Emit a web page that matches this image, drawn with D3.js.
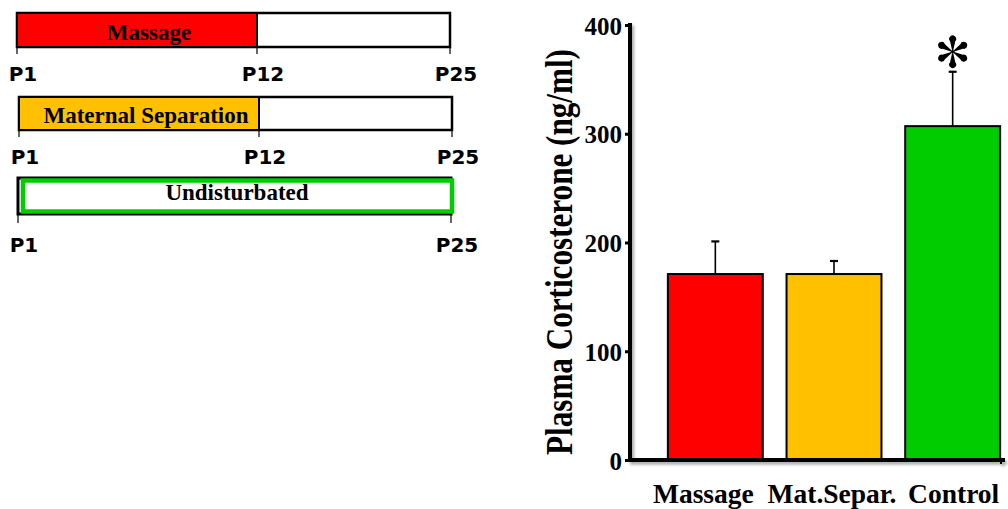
<!DOCTYPE html>
<html>
<head>
<meta charset="utf-8">
<script src="https://cdn.jsdelivr.net/npm/d3@7"></script>
<style>
  html, body { margin: 0; padding: 0; background: #fff; }
  svg { display: block; }
  .serif { font-family: "Liberation Serif", "Times New Roman", serif; font-weight: 700; }
  .sans { font-family: "DejaVu Sans", sans-serif; font-weight: 700; }
</style>
</head>
<body>
<svg id="chart" width="1008" height="509"></svg>
<script>
// ---- Protocol timelines (postnatal days) ----
const protocolNames = ["Massage", "Maternal Separation", "Undisturbated"];
const protocolStart = [1, 1, 1];
const protocolEnd = [12, 12, 25];
const protocolColors = ["#ff0000", "#ffc000", "#00cc00"];
const protocolTicks = [[1, 12, 25], [1, 12, 25], [1, 25]];
const dayMarks = [1, 12, 25];

// ---- Plasma corticosterone (ng/ml), mean and upper SEM ----
const groups = ["Massage", "Mat.Separ.", "Control"];
const groupMeans = [171, 171, 307];
const groupSEM = [30, 12, 50];
const groupColors = ["#ff0000", "#ffc000", "#00cc00"];
const significant = [false, false, true];
const yTicks = [0, 100, 200, 300, 400];
const yMinorTicks = [50, 150, 250, 350];

const svg = d3.select("#chart");

// ============ Left panel: timelines ============
const rowTop = [13, 97, 178];
const rowH = [34, 33, 36];
const rowDx = [0, 2, 1];
const labelX = [149, 146, 237];
const labelY = [27, 26, 22];
const dayX = d3.scaleLinear().domain(dayMarks).range([17, 257, 450]);

protocolNames.forEach((name, i) => {
  const g = svg.append("g").attr("transform", `translate(${rowDx[i]},${rowTop[i]})`);
  const x0 = dayX(protocolStart[i]);
  const x1 = dayX(25);
  const xe = dayX(protocolEnd[i]);
  const h = rowH[i];

  if (protocolEnd[i] < 25) {
    // outline of the full P1–P25 window
    g.append("rect").attr("x", x0).attr("y", 0).attr("width", x1 - x0).attr("height", h)
      .attr("fill", "#fff").attr("stroke", "#000").attr("stroke-width", 2.5);
    // treatment period
    g.append("rect").attr("x", x0).attr("y", 0).attr("width", xe - x0).attr("height", h)
      .attr("fill", protocolColors[i]).attr("stroke", "#000").attr("stroke-width", 2);
  } else {
    g.append("rect").attr("x", x0).attr("y", 0).attr("width", x1 - x0).attr("height", h)
      .attr("fill", "#fff").attr("stroke", "#000").attr("stroke-width", 3);
    g.append("rect").attr("x", x0 + 5).attr("y", 2.5).attr("width", x1 - x0 - 4).attr("height", h - 5)
      .attr("fill", "#fff").attr("stroke", protocolColors[i]).attr("stroke-width", 4.5);
  }

  g.append("text")
    .attr("class", "serif")
    .attr("x", labelX[i] - rowDx[i])
    .attr("y", labelY[i])
    .attr("text-anchor", "middle")
    .style("font-size", "23px")
    .attr("fill", "#000")
    .text(name);

  // day ticks under the timeline
  const tickLen = i === 2 ? 9 : 7;
  protocolTicks[i].forEach(d => {
    g.append("line").attr("x1", dayX(d)).attr("x2", dayX(d))
      .attr("y1", h).attr("y2", h + tickLen)
      .attr("stroke", "#000").attr("stroke-width", 1.2);
    g.append("text")
      .attr("class", "sans")
      .attr("x", dayX(d) + 6)
      .attr("y", h + (i === 2 ? 38 : 34))
      .attr("text-anchor", "middle")
      .style("font-size", "20px")
      .attr("fill", "#000")
      .text("P" + d);
  });
});

// ============ Right panel: bar chart ============
const defs = svg.append("defs");
const shadow = defs.append("filter").attr("id", "axisShadow")
  .attr("x", "-5%").attr("y", "-5%").attr("width", "110%").attr("height", "120%");
shadow.append("feDropShadow").attr("dx", 2).attr("dy", 2.5).attr("stdDeviation", 1.5)
  .attr("flood-color", "#000").attr("flood-opacity", 0.35);

const axisX = 630, baseY = 460;
const y = d3.scaleLinear().domain([0, 400]).range([baseY, 25]);
const x = d3.scaleBand().domain(groups).range([656, 1012]).paddingInner(0.2).paddingOuter(0.1);

// bars
svg.append("g").selectAll("rect").data(groups).join("rect")
  .attr("x", d => x(d))
  .attr("y", (d, i) => y(groupMeans[i]))
  .attr("width", x.bandwidth())
  .attr("height", (d, i) => y(0) - y(groupMeans[i]))
  .attr("fill", (d, i) => groupColors[i])
  .attr("stroke", "#000").attr("stroke-width", 2);

// error bars (upper only)
const eb = svg.append("g").selectAll("g").data(groups).join("g");
eb.append("line")
  .attr("x1", d => x(d) + x.bandwidth() / 2).attr("x2", d => x(d) + x.bandwidth() / 2)
  .attr("y1", (d, i) => y(groupMeans[i]))
  .attr("y2", (d, i) => y(groupMeans[i] + groupSEM[i]))
  .attr("stroke", "#000").attr("stroke-width", 1.6);
eb.append("line")
  .attr("x1", d => x(d) + x.bandwidth() / 2 - 4).attr("x2", d => x(d) + x.bandwidth() / 2 + 4)
  .attr("y1", (d, i) => y(groupMeans[i] + groupSEM[i]))
  .attr("y2", (d, i) => y(groupMeans[i] + groupSEM[i]))
  .attr("stroke", "#000").attr("stroke-width", 2.2);

// significance asterisk: six teardrop petals
const petal = "M-0.6,-1.5 L-2.6,-10.4 A3.5,3.5 0 1 1 2.6,-10.4 L0.6,-1.5 Z";
const stars = svg.append("g").selectAll("g")
  .data(groups.map((d, i) => i).filter(i => significant[i])).join("g")
  .attr("transform", i => `translate(${x(groups[i]) + x.bandwidth() / 2},${y(groupMeans[i] + groupSEM[i]) - 20})`);
stars.selectAll("path").data(d3.range(6)).join("path")
  .attr("d", petal)
  .attr("transform", k => `rotate(${k * 60})`)
  .attr("fill", "#000");
stars.append("circle").attr("r", 1.8).attr("fill", "#000");

// y axis
const yAxis = d3.axisLeft(y).tickValues(yTicks).tickFormat(d3.format("d")).tickSize(5).tickSizeOuter(0).tickPadding(3);
const yg = svg.append("g").attr("transform", `translate(${axisX},0)`).call(yAxis);
yg.select(".domain").remove();
yg.selectAll(".tick line").attr("stroke", "#000").attr("stroke-width", 3);
yg.selectAll(".tick text")
  .attr("class", "serif")
  .style("font-size", "25px")
  .attr("fill", "#000").attr("dy", "0.36em");

const yMinor = d3.axisLeft(y).tickValues(yMinorTicks).tickFormat("").tickSize(2).tickSizeOuter(0);
const ymg = svg.append("g").attr("transform", `translate(${axisX},0)`).call(yMinor);
ymg.select(".domain").remove();
ymg.selectAll(".tick line").attr("stroke", "#000").attr("stroke-width", 2);

// axis lines with soft shadow
const axes = svg.append("g").attr("filter", "url(#axisShadow)");
axes.append("line").attr("x1", axisX).attr("x2", axisX).attr("y1", y(400) - 2).attr("y2", baseY + 2)
  .attr("stroke", "#000").attr("stroke-width", 4);
axes.append("line").attr("x1", axisX - 2).attr("x2", 1005).attr("y1", baseY).attr("y2", baseY)
  .attr("stroke", "#000").attr("stroke-width", 4);
axes.append("line").attr("x1", 1001).attr("x2", 1001).attr("y1", baseY).attr("y2", baseY + 4)
  .attr("stroke", "#000").attr("stroke-width", 2);

// x axis labels
const xAxis = d3.axisBottom(x).tickSize(0).tickPadding(0);
const xg = svg.append("g").attr("transform", `translate(0,${baseY})`).call(xAxis);
xg.select(".domain").remove();
xg.selectAll(".tick text")
  .attr("class", "serif")
  .style("font-size", "27.5px")
  .attr("fill", "#000")
  .attr("y", 43).attr("dy", 0)
  .attr("dx", (d, i) => (i === 0 ? -12 : (i === 1 ? -2 : 1)));

// y axis title (condensed serif, reading bottom to top)
svg.append("text")
  .attr("class", "serif")
  .attr("transform", "translate(572,252) rotate(-90) scale(0.82,1)")
  .attr("text-anchor", "middle")
  .style("font-size", "38px")
  .attr("fill", "#000")
  .text("Plasma Corticosterone (ng/ml)");
</script>
</body>
</html>
